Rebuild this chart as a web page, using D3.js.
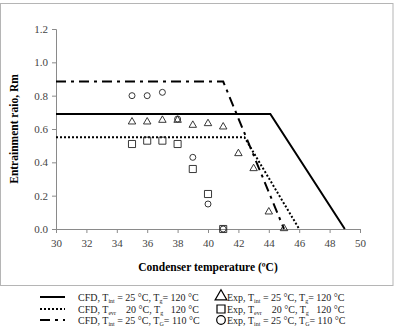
<!DOCTYPE html>
<html>
<head>
<meta charset="utf-8">
<script src="https://cdn.jsdelivr.net/npm/d3@7"></script>
<style>
  body { margin: 0; background: #fff; }
  svg { display: block; }
  svg text { font-family: "Liberation Serif", "Times New Roman", serif !important; white-space: pre; }
</style>
</head>
<body>
<svg id="chart" width="396" height="331"></svg>
<script>
// CFD model lines: [condenser temp, entrainment ratio]
const cfd25_120 = [[30, 0.69], [44.1, 0.69], [49, 0]];
const cfd20_120 = [[30, 0.55], [42.4, 0.55], [46, 0]];
const cfd25_110 = [[30, 0.885], [41, 0.885], [45, 0]];

// experimental points
const expTemps = [35, 36, 37, 38, 39, 40, 41, 42, 43, 44, 45];
const exp25_120 = [0.64, 0.64, 0.65, 0.65, 0.62, 0.63, 0.61, 0.45, 0.36, 0.10, 0.0];
const exp20Temps = [35, 36, 37, 38, 39, 40, 41];
const exp20_120 = [0.51, 0.53, 0.53, 0.51, 0.36, 0.21, 0.0];
const exp25Temps110 = [35, 36, 37, 38, 39, 40, 41];
const exp25_110 = [0.80, 0.80, 0.82, 0.66, 0.43, 0.15, 0.0];

const xTicks = [30, 32, 34, 36, 38, 40, 42, 44, 46, 48, 50];
const yTicks = [0, 0.2, 0.4, 0.6, 0.8, 1.0, 1.2];

const svg = d3.select("#chart");

// outer frame
svg.append("rect")
  .attr("x", 0.5).attr("y", 3.5)
  .attr("width", 392.5).attr("height", 282)
  .attr("fill", "none").attr("stroke", "#b5b5b5");

const x = d3.scaleLinear().domain([30, 50]).range([56, 360]);
const y = d3.scaleLinear().domain([0, 1.2]).range([229, 29]);

const xAxis = svg.append("g")
  .attr("transform", "translate(0,229)")
  .call(d3.axisBottom(x).tickValues(xTicks).tickSize(4).tickPadding(6).tickFormat(d3.format("d")));
const yAxis = svg.append("g")
  .attr("transform", "translate(56,0)")
  .call(d3.axisLeft(y).tickValues(yTicks).tickSize(4).tickPadding(4).tickFormat(d3.format(".1f")));

[xAxis, yAxis].forEach(g => {
  g.select(".domain").attr("stroke", "#8a8a8a");
  g.selectAll(".tick line").attr("stroke", "#8a8a8a");
  g.selectAll("text")
    .attr("font-size", 11)
    .attr("fill", "#444");
});

// axis titles
svg.append("text")
  .attr("x", 208).attr("y", 271)
  .attr("text-anchor", "middle")
  .attr("font-size", 11.5).attr("font-weight", "bold")
  .text("Condenser temperature (ºC)");

svg.append("text")
  .attr("transform", "translate(18,129) rotate(-90)")
  .attr("text-anchor", "middle")
  .attr("font-size", 11.5).attr("font-weight", "bold")
  .text("Entrainment raio, Rm");

const line = d3.line().x(d => x(d[0])).y(d => y(d[1]));

const styles = {
  solid: null,
  dotted: "2,2",
  dashdot: "10,5,3,5"
};

function drawLine(data, dash) {
  svg.append("path")
    .datum(data)
    .attr("d", line)
    .attr("fill", "none")
    .attr("stroke", "#000")
    .attr("stroke-width", 2)
    .attr("stroke-dasharray", dash);
}
drawLine(cfd25_120, styles.solid);
drawLine(cfd20_120, styles.dotted);
drawLine(cfd25_110, styles.dashdot);

const tri = d3.symbol().type(d3.symbolTriangle).size(24);
const sq = d3.symbol().type(d3.symbolSquare).size(50);

svg.append("g").selectAll("path")
  .data(exp20Temps.map((t, i) => [t, exp20_120[i]]))
  .join("path")
  .attr("d", sq)
  .attr("transform", d => `translate(${x(d[0])},${y(d[1])})`)
  .attr("fill", "none").attr("stroke", "#222").attr("stroke-width", 0.9);

svg.append("g").selectAll("circle")
  .data(exp25Temps110.map((t, i) => [t, exp25_110[i]]))
  .join("circle")
  .attr("cx", d => x(d[0])).attr("cy", d => y(d[1]))
  .attr("r", 3)
  .attr("fill", "none").attr("stroke", "#222").attr("stroke-width", 0.9);

svg.append("g").selectAll("path")
  .data(expTemps.map((t, i) => [t, exp25_120[i]]))
  .join("path")
  .attr("d", tri)
  .attr("transform", d => `translate(${x(d[0])},${y(d[1]) - 0.5})`)
  .attr("fill", "none").attr("stroke", "#222").attr("stroke-width", 0.9);

// legend
const legendRows = [297, 309, 320];
const fs = 10;

function labelText(g, parts) {
  const t = g.append("text").attr("font-size", fs).attr("fill", "#222");
  parts.forEach(p => {
    if (typeof p === "string") {
      t.append("tspan").text(p);
    } else {
      t.append("tspan").attr("font-size", 6).attr("baseline-shift", "-2").text(p.sub);
    }
  });
  return t;
}

const cfdLabels = [
  ["CFD, T", {sub: "int"}, " = 25 °C, T", {sub: "g"}, "= 120 °C"],
  ["CFD, T", {sub: "evr"}, "    20 °C, T", {sub: "g"}, "   120 °C"],
  ["CFD, T", {sub: "int"}, " = 25 °C, T", {sub: "G"}, "= 110 °C"]
];
const expLabels = [
  ["Exp, T", {sub: "int"}, " = 25 °C, T", {sub: "g"}, "= 120 °C"],
  ["Exp, T", {sub: "evr"}, "    20 °C, T", {sub: "g"}, "   120 °C"],
  ["Exp, T", {sub: "int"}, " = 25 °C, T", {sub: "G"}, "= 110 °C"]
];
const legendDash = [styles.solid, styles.dotted, styles.dashdot];

legendRows.forEach((ry, i) => {
  svg.append("line")
    .attr("x1", 40).attr("x2", 65)
    .attr("y1", ry).attr("y2", ry)
    .attr("stroke", "#000").attr("stroke-width", 2)
    .attr("stroke-dasharray", legendDash[i]);
  const g = svg.append("g").attr("transform", `translate(78,${ry + 3.5})`);
  labelText(g, cfdLabels[i]);
  const g2 = svg.append("g").attr("transform", `translate(227,${ry + 3.5})`);
  labelText(g2, expLabels[i]);
});

// legend symbols (bigger than in plot)
svg.append("path")
  .attr("d", d3.symbol().type(d3.symbolTriangle).size(60)())
  .attr("transform", `translate(221,${legendRows[0] - 0.5})`)
  .attr("fill", "none").attr("stroke", "#000").attr("stroke-width", 1.2);
svg.append("path")
  .attr("d", d3.symbol().type(d3.symbolSquare).size(64)())
  .attr("transform", `translate(221,${legendRows[1]})`)
  .attr("fill", "none").attr("stroke", "#000").attr("stroke-width", 1.2);
svg.append("circle")
  .attr("cx", 221).attr("cy", legendRows[2]).attr("r", 4.3)
  .attr("fill", "none").attr("stroke", "#000").attr("stroke-width", 1.2);
</script>
</body>
</html>
